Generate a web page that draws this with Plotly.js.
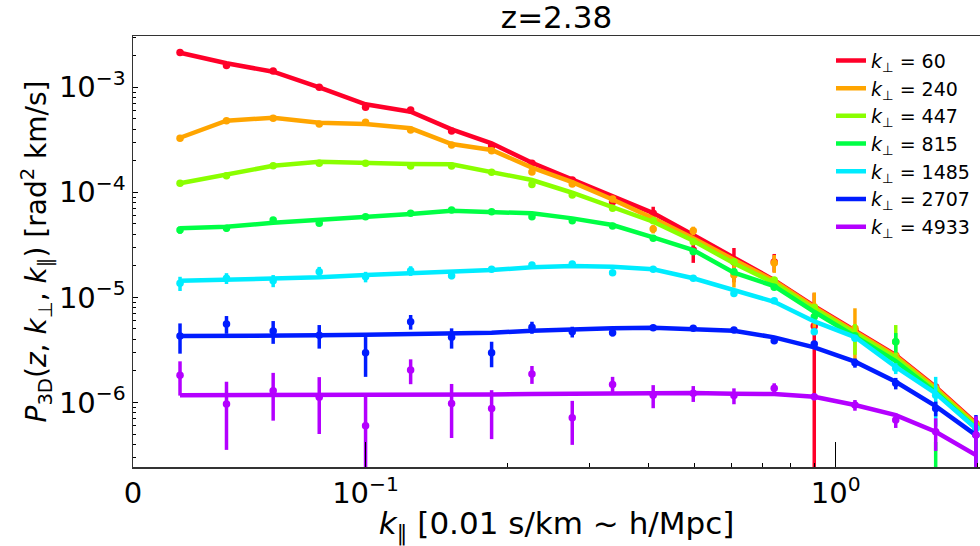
<!DOCTYPE html>
<html>
<head>
<meta charset="utf-8">
<script src="https://cdn.plot.ly/plotly-3.0.1.min.js"></script>
<style>html,body{margin:0;padding:0;background:#fff;}#chart{width:980px;height:546px;}</style>
</head>
<body>
<div id="chart"></div>
<script>
// k_parallel bins
const kPar = [0.0403, 0.0506, 0.0636, 0.0797, 0.100, 0.1247, 0.1524, 0.1854, 0.2259, 0.2752,
              0.3353, 0.4091, 0.4978, 0.6076, 0.7401, 0.9004, 1.099, 1.342, 1.632, 1.988];

const kPerpLabels = ['60', '240', '447', '815', '1485', '2707', '4933'];
const colors = ['#ff0029', '#ffa500', '#8aff00', '#00ff45', '#00ecff', '#001cff', '#b400ff'];

// measured P3D (points) with errors, and model lines
const p60   = [2.14e-3, 1.61e-3, 1.43e-3, 1.00e-3, 6.45e-4, 6.08e-4, 3.84e-4, 2.76e-4, 1.89e-4, 1.31e-4, 8.14e-5, 6.31e-5, 2.82e-5, 2.17e-5, 2.17e-5, 5.33e-6, 4.85e-6, 2.80e-6, 1.40e-6, 6.3e-7];
const e60   = [4e-5, 3e-5, 2.5e-5, 2e-5, 1.2e-5, 1.2e-5, 8e-6, 6e-6, 4e-6, 3e-6, 2e-6, 9.8e-6, 6.9e-6, 7.8e-6, 4.2e-6, 5.6e-6, 2e-7, 1e-7, 5e-8, 2e-8];
const m60   = [2.135e-3, 1.693e-3, 1.408e-3, 1.0e-3, 6.89e-4, 5.86e-4, 3.98e-4, 2.93e-4, 1.91e-4, 1.33e-4, 9.08e-5, 6.35e-5, 3.92e-5, 2.37e-5, 1.46e-5, 8.26e-6, 4.88e-6, 2.82e-6, 1.40e-6, 6.35e-7];

const p240  = [3.27e-4, 4.81e-4, 5.07e-4, 4.47e-4, 4.64e-4, 3.92e-4, 2.82e-4, 2.49e-4, 1.56e-4, 1.20e-4, 8.64e-5, 4.47e-5, 4.31e-5, 1.63e-5, 2.12e-5, 8.14e-6, 5.07e-6, 2.76e-6, 1.37e-6, 6.2e-7];
const e240  = [6e-6, 8e-6, 8e-6, 7e-6, 7e-6, 6e-6, 5e-6, 4e-6, 3e-6, 2.5e-6, 2e-6, 4.1e-6, 4.0e-6, 3.9e-6, 4.1e-6, 3.0e-6, 2.8e-6, 1e-7, 5e-8, 2e-8];
const m240  = [3.31e-4, 4.81e-4, 5.13e-4, 4.60e-4, 4.47e-4, 4.07e-4, 2.88e-4, 2.53e-4, 1.72e-4, 1.25e-4, 8.54e-5, 5.65e-5, 3.65e-5, 2.27e-5, 1.43e-5, 8.08e-6, 4.78e-6, 2.76e-6, 1.37e-6, 6.21e-7];

const p447  = [1.22e-4, 1.44e-4, 1.79e-4, 1.89e-4, 1.89e-4, 1.78e-4, 1.78e-4, 1.55e-4, 1.19e-4, 9.43e-5, 7.04e-5, 5.36e-5, 3.38e-5, 2.18e-5, 1.46e-5, 8.0e-6, 4.21e-6, 3.78e-6, 1.31e-6, 5.95e-7];
const e447  = [2e-6, 2.5e-6, 3e-6, 3e-6, 3e-6, 3e-6, 3e-6, 2.5e-6, 2e-6, 1.5e-6, 1.2e-6, 1e-6, 8e-7, 6e-7, 5e-7, 4e-7, 1.37e-6, 1.67e-6, 3e-8, 1e-8];
const m447  = [1.22e-4, 1.46e-4, 1.79e-4, 1.96e-4, 1.89e-4, 1.86e-4, 1.85e-4, 1.55e-4, 1.31e-4, 9.91e-5, 7.29e-5, 5.25e-5, 3.46e-5, 2.11e-5, 1.37e-5, 7.74e-6, 4.57e-6, 2.64e-6, 1.31e-6, 5.95e-7];

const p815  = [4.38e-5, 4.54e-5, 5.45e-5, 5.07e-5, 5.86e-5, 6.31e-5, 6.78e-5, 6.53e-5, 5.86e-5, 5.36e-5, 4.78e-5, 3.65e-5, 2.72e-5, 1.75e-5, 1.25e-5, 6.53e-6, 4.3e-6, 3.78e-6, 2.0e-7, 5.7e-7];
const e815  = [3.5e-6, 3e-6, 3e-6, 3e-6, 3e-6, 3e-6, 3e-6, 2.5e-6, 2e-6, 2e-6, 1.5e-6, 1.2e-6, 1e-6, 8e-7, 6e-7, 4e-7, 2e-7, 8e-7, 2.2e-7, 1e-8];
const m815  = [4.54e-5, 4.70e-5, 5.13e-5, 5.45e-5, 5.86e-5, 6.21e-5, 6.68e-5, 6.53e-5, 6.31e-5, 5.65e-5, 4.88e-5, 3.73e-5, 2.82e-5, 1.72e-5, 1.28e-5, 7.29e-6, 4.28e-6, 2.47e-6, 1.25e-6, 5.69e-7];

const p1485 = [1.36e-5, 1.52e-5, 1.44e-5, 1.75e-5, 1.57e-5, 1.79e-5, 1.61e-5, 1.85e-5, 2.03e-5, 2.08e-5, 1.72e-5, 1.85e-5, 1.52e-5, 1.09e-5, 9.28e-6, 4.70e-6, 4.07e-6, 2.11e-6, 1.17e-6, 5.65e-7];
const e1485 = [2.1e-6, 1.8e-6, 1.9e-6, 2.0e-6, 1.8e-6, 1.9e-6, 1.2e-6, 1.0e-6, 1.0e-6, 1.0e-6, 8e-7, 7e-7, 6e-7, 4e-7, 3e-7, 2e-7, 1.5e-7, 2.5e-7, 5.8e-7, 1e-8];
const m1485 = [1.44e-5, 1.48e-5, 1.49e-5, 1.55e-5, 1.63e-5, 1.69e-5, 1.74e-5, 1.82e-5, 1.93e-5, 1.99e-5, 1.96e-5, 1.85e-5, 1.52e-5, 1.16e-5, 9.08e-6, 5.9e-6, 4.19e-6, 2.18e-6, 1.22e-6, 5.65e-7];

const p2707 = [4.28e-6, 5.57e-6, 4.78e-6, 4.35e-6, 2.97e-6, 5.86e-6, 4.16e-6, 2.97e-6, 5.18e-6, 4.70e-6, 4.60e-6, 5.13e-6, 5.07e-6, 4.88e-6, 3.86e-6, 3.59e-6, 2.38e-6, 1.52e-6, 8.77e-7, 4.88e-7];
const e2707 = [1.37e-6, 1.07e-6, 1.17e-6, 1.1e-6, 1.22e-6, 9.3e-7, 9.1e-7, 8.1e-7, 6.8e-7, 5.5e-7, 3.5e-7, 2e-7, 2e-7, 2e-7, 2e-7, 2e-7, 2.4e-7, 1.9e-7, 1.4e-7, 2.7e-7];
const m2707 = [4.28e-6, 4.28e-6, 4.31e-6, 4.35e-6, 4.40e-6, 4.47e-6, 4.47e-6, 4.60e-6, 4.81e-6, 4.96e-6, 5.07e-6, 5.13e-6, 4.99e-6, 4.81e-6, 4.16e-6, 3.34e-6, 2.44e-6, 1.57e-6, 9.22e-7, 4.88e-7];

const p4933 = [1.81e-6, 9.63e-7, 1.29e-6, 1.12e-6, 5.98e-7, 2.03e-6, 9.78e-7, 8.77e-7, 1.86e-6, 7.14e-7, 1.48e-6, 1.17e-6, 1.22e-6, 1.16e-6, 1.36e-6, 1.13e-6, 9.43e-7, 6.78e-7, 5.25e-7, 4.88e-7];
const e4933 = [6.5e-7, 6.1e-7, 6.2e-7, 6.2e-7, 5.75e-7, 5.4e-7, 5.2e-7, 4.3e-7, 3.6e-7, 3.2e-7, 2.7e-7, 2.9e-7, 2.1e-7, 2.0e-7, 1.6e-7, 8e-8, 1.1e-7, 1.07e-7, 1.8e-7, 2.5e-7];
const m4933 = [1.17e-6, 1.17e-6, 1.17e-6, 1.17e-6, 1.17e-6, 1.18e-6, 1.19e-6, 1.19e-6, 1.20e-6, 1.21e-6, 1.23e-6, 1.23e-6, 1.23e-6, 1.21e-6, 1.20e-6, 1.13e-6, 9.43e-7, 7.57e-7, 5.25e-7, 3.15e-7];

const points = [p60, p240, p447, p815, p1485, p2707, p4933];
const errors = [e60, e240, e447, e815, e1485, e2707, e4933];
const models = [m60, m240, m447, m815, m1485, m2707, m4933];

// axis ticks
const xTickVals = [0.03201, 0.1, 1];
const xTickText = ['0', '10<sup>\u22121</sup>', '10<sup>0</sup>'];
const xMinorVals = [0.2, 0.3, 0.4, 0.5, 0.6, 0.7, 0.8, 0.9, 2];
const yTickVals = [1e-6, 1e-5, 1e-4, 1e-3];
const yTickText = ['10<sup>\u22126</sup>', '10<sup>\u22125</sup>', '10<sup>\u22124</sup>', '10<sup>\u22123</sup>'];
const vlineK = 0.1136;

const yMinorVals = [];
[-7, -6, -5, -4, -3].forEach(p => { for (let d = 2; d <= 9; d++) yMinorVals.push(d * Math.pow(10, p)); });

const traces = [];
for (let i = 0; i < points.length; i++) {
  traces.push({
    x: kPar, y: points[i], type: 'scatter', mode: 'markers',
    marker: {color: colors[i], size: 7.5},
    error_y: {type: 'data', array: errors[i], visible: true, color: colors[i], thickness: 3.5, width: 0},
    showlegend: false, hoverinfo: 'skip'
  });
  traces.push({
    x: kPar, y: models[i], type: 'scatter', mode: 'lines',
    line: {color: colors[i], width: 4.5},
    name: '<i>k</i><sub>\u22a5</sub> = ' + kPerpLabels[i]
  });
}

const layout = {
  width: 980, height: 546,
  margin: {l: 133, r: 0, t: 36, b: 79},
  paper_bgcolor: '#fff', plot_bgcolor: '#fff',
  font: {family: 'DejaVu Sans, sans-serif', color: '#000'},
  title: {text: 'z=2.38', font: {size: 31, color: '#000'}, x: 0.5, xref: 'paper', xanchor: 'center',
          y: 1 - 17 / 546, yref: 'container', yanchor: 'middle'},
  xaxis: {
    type: 'log', range: [Math.log10(0.03201), 0.307], autorange: false,
    tickmode: 'array', tickvals: xTickVals, ticktext: xTickText,
    ticks: 'inside', ticklen: 25, tickwidth: 1.2, tickcolor: '#000',
    tickfont: {size: 29, color: '#000'},
    showline: true, linecolor: '#333', linewidth: 1.5, mirror: true,
    showgrid: false, zeroline: false,
    minor: {tickmode: 'array', tickvals: xMinorVals, ticks: 'inside', ticklen: 4, tickwidth: 1, tickcolor: '#000', showgrid: false},
    title: {text: '<i>k</i><sub>\u2225</sub> [0.01 s/km ~ h/Mpc]', font: {size: 31, color: '#000'}, standoff: 4}
  },
  yaxis: {
    type: 'log', range: [-6.6152, -2.5114], autorange: false,
    tickmode: 'array', tickvals: yTickVals, ticktext: yTickText,
    ticks: 'inside', ticklen: 5, tickwidth: 1.2, tickcolor: '#000',
    tickfont: {size: 29, color: '#000'},
    showline: true, linecolor: '#333', linewidth: 1.5, mirror: false,
    showgrid: false, zeroline: false,
    minor: {tickmode: 'array', tickvals: yMinorVals, ticks: 'inside', ticklen: 3, tickwidth: 1, tickcolor: '#000', showgrid: false},
    title: {text: '<i>P</i><sub>3D</sub>(<i>z</i>, <i>k</i><sub>\u22a5</sub>, <i>k</i><sub>\u2225</sub>) [rad<sup>2</sup> km/s]',
            font: {size: 28, color: '#000'}, standoff: 4}
  },
  showlegend: true,
  legend: {x: (831 - 133) / 847, xanchor: 'left', y: 0.987, yanchor: 'top',
           bgcolor: 'rgba(0,0,0,0)', borderwidth: 0, font: {size: 19, color: '#000'},
           tracegroupgap: 0},
  shapes: [{type: 'line', xref: 'x', yref: 'paper', x0: Math.log10(vlineK), x1: Math.log10(vlineK), y0: 0, y1: 1,
            line: {color: '#aaaaaa', width: 1.5}, layer: 'below'}]
};

Plotly.newPlot('chart', traces, layout, {staticPlot: true, displayModeBar: false});
</script>
</body>
</html>
